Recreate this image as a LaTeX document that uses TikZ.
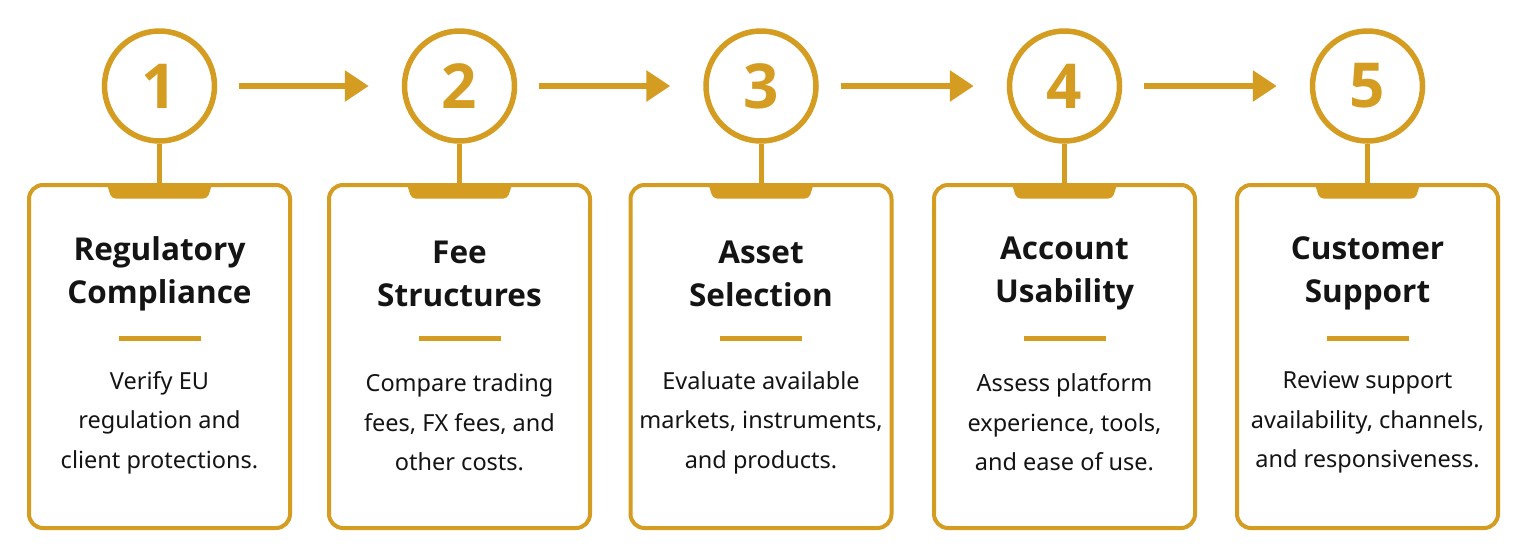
\documentclass[tikz,border=0pt]{standalone}
\usepackage{fontspec}
\setmainfont{Noto Sans}
\newfontfamily\ttlfont{Open Sans}
\usetikzlibrary{arrows.meta}
\definecolor{gold}{RGB}{212,156,32}
\definecolor{ink}{RGB}{20,20,20}
\tikzset{
  numcirc/.style={circle,draw=gold,line width=5.5pt,minimum size=110pt,inner sep=0pt,
    text=gold,font=\ttlfont\bfseries\fontsize{62}{62}\selectfont},
  card/.style={draw=gold,line width=4pt,rounded corners=14pt,minimum width=261pt,minimum height=343pt,inner sep=0pt},
  stem/.style={draw=gold,line width=5pt},
  flow/.style={draw=gold,line width=6pt,-{Triangle[length=24pt,width=30pt]},shorten <=22pt,shorten >=33pt},
  ttl/.style={align=center,text=ink,font=\ttlfont\bfseries\fontsize{31.5}{43}\selectfont},
  desc/.style={align=center,text=ink,font=\fontsize{23.5}{39.5}\selectfont},
  tab/.style={fill=gold,rounded corners=4pt},
  sep/.style={draw=gold,line width=5pt}
}
\begin{document}
\begin{tikzpicture}[x=1pt,y=-1pt]
\useasboundingbox (0,0) rectangle (1526,558);
\fill[white] (0,0) rectangle (1526,558);
\foreach \i/\cx/\t/\d in {
 1/159.5/{Regulatory\\Compliance}/{Verify EU\\regulation and\\client protections.},
 2/459.5/{Fee\\Structures}/{Compare trading\\fees, FX fees, and\\other costs.},
 3/761/{Asset\\Selection}/{Evaluate available\\markets, instruments,\\and products.},
 4/1064.5/{Account\\Usability}/{Assess platform\\experience, tools,\\and ease of use.},
 5/1367.5/{Customer\\Support}/{Review support\\availability, channels,\\and responsiveness.}}
{
  \node[numcirc] (n\i) at (\cx,86) {\i};
  \node[card] (b\i) at (\cx,356.5) {};
  \fill[tab] (\cx-53,183) -- (\cx+53,183) -- (\cx+48,198.5) -- (\cx-48,198.5) -- cycle;
  \draw[stem] (n\i.south) -- (b\i.north);
  \node[ttl] (t\i) at (\cx,273.5) {\t};
  \draw[sep] (\cx-41,338) -- (\cx+41,338);
  \node[desc] (d\i) at (\cx,422.5) {\d};
}
\foreach \a/\b in {1/2,2/3,3/4,4/5}{
  \draw[flow] (n\a) -- (n\b);
}
\end{tikzpicture}
\end{document}
